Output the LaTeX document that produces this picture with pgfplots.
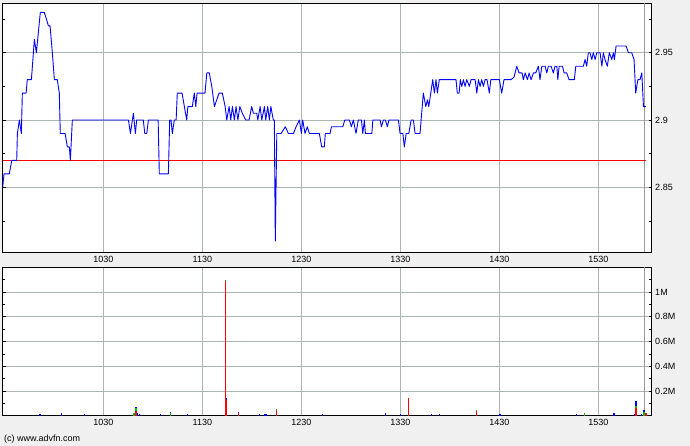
\documentclass[border=0pt]{standalone}
\usepackage{pgfplots}
\pgfplotsset{compat=1.18}
\usepackage{fontspec}
\setmainfont{Liberation Sans}
\definecolor{bg}{RGB}{240,240,240}
\definecolor{gridc}{RGB}{170,182,182}
\definecolor{pblue}{RGB}{0,0,255}
\definecolor{pred}{RGB}{255,0,0}
\definecolor{pgreen}{RGB}{0,190,0}
\pgfplotsset{
  advstyle/.style={
    scale only axis, width=649pt,
    xmin=569, xmax=962.3,
    axis background/.style={fill=white},
    xtick={630,690,750,810,870,930},
    xticklabels={1030,1130,1230,1330,1430,1530},
    extra x ticks={957.7}, extra x tick labels={},
    extra x tick style={grid=major, major grid style={gray!80, line width=0.8pt}},
    yticklabel pos=right, ytick pos=both,
    tick align=inside, major tick length=3pt, minor tick length=2.5pt,
    tick style={black, line width=0.6pt},
    xtick style={draw=none},
    grid=major, major grid style={gridc, line width=0.8pt},
    axis line style={black, line width=0.9pt},
    tick label style={font=\fontsize{9}{10}\selectfont},
    yticklabel style={anchor=west, xshift=0pt},
    xticklabel style={yshift=0pt},
  }
}
\begin{document}
\begin{tikzpicture}
\fill[bg] (0pt,0pt) rectangle (690pt,446pt);
\begin{axis}[advstyle,
  at={(2.7pt,193.5pt)}, anchor=south west, height=249.5pt,
  ymin=2.8015, ymax=2.987,
  ytick={2.85,2.9,2.95}, yticklabels={2.85,2.9,2.95},
  minor ytick={2.825,2.875,2.925,2.975},
]
\addplot[pred, line width=0.9pt, mark=none] coordinates {(569,2.87) (958.7,2.87)};
\addplot[pblue, line width=0.9pt, mark=none, line join=round] coordinates {
(569.0,2.85)(569.8,2.86)(573.0,2.86)(574.5,2.87)(577.5,2.87)(577.9,2.89)(579.1,2.90)(580.3,2.89)(580.9,2.92)(583.2,2.92)(583.9,2.93)(586.4,2.93)(588.2,2.96)(589.4,2.95)(590.2,2.96)(591.8,2.98)(594.2,2.98)(595.5,2.975)(596.7,2.97)(597.7,2.97)(599.1,2.95)(600.3,2.93)(602.1,2.93)(603.3,2.92)(603.9,2.89)(606.8,2.89)(608.2,2.88)(609.4,2.88)(610.0,2.87)(611.2,2.90)(645.2,2.90)(646.4,2.89)(648.2,2.905)(649.4,2.89)(650.2,2.90)(654.2,2.90)(655.1,2.89)(656.3,2.89)(657.3,2.90)(663.2,2.90)(663.9,2.86)(669.4,2.86)(670.2,2.90)(671.0,2.90)(671.8,2.89)(673.0,2.90)(674.1,2.90)(674.8,2.92)(677.7,2.92)(680.5,2.90)(681.2,2.91)(683.9,2.91)(685.1,2.92)(686.0,2.91)(686.8,2.92)(691.6,2.92)(692.7,2.935)(694.2,2.935)(695.7,2.925)(697.3,2.91)(700.1,2.92)(702.1,2.92)(703.8,2.91)(704.8,2.90)(706.2,2.91)(707.2,2.90)(708.2,2.91)(709.4,2.90)(710.4,2.91)(711.5,2.90)(712.7,2.91)(714.2,2.905)(716.3,2.90)(718.3,2.90)(719.9,2.91)(720.9,2.905)(723.0,2.905)(723.6,2.90)(725.0,2.91)(726.0,2.90)(727.6,2.91)(728.4,2.90)(729.6,2.91)(730.6,2.90)(731.5,2.91)(733.0,2.90)(733.6,2.90)(734.2,2.81)(735.1,2.89)(737.7,2.89)(740.3,2.895)(742.1,2.89)(745.2,2.89)(746.8,2.895)(748.8,2.90)(750.0,2.89)(750.8,2.90)(752.2,2.89)(753.6,2.895)(754.8,2.89)(760.9,2.89)(762.3,2.88)(763.9,2.88)(764.5,2.89)(767.4,2.89)(768.2,2.895)(775.1,2.895)(776.3,2.90)(779.1,2.90)(780.3,2.895)(781.5,2.90)(783.1,2.89)(784.5,2.90)(786.4,2.90)(787.2,2.89)(788.2,2.90)(788.8,2.89)(792.7,2.89)(793.3,2.90)(797.7,2.90)(798.5,2.895)(799.7,2.90)(800.9,2.90)(802.1,2.895)(803.1,2.90)(808.8,2.90)(809.8,2.89)(811.5,2.89)(812.4,2.88)(813.5,2.89)(815.1,2.89)(816.5,2.90)(817.9,2.90)(818.9,2.89)(821.9,2.89)(823.9,2.92)(825.4,2.91)(826.4,2.915)(827.2,2.91)(828.4,2.92)(829.6,2.93)(830.6,2.92)(831.6,2.93)(832.4,2.92)(833.6,2.93)(843.7,2.93)(844.5,2.92)(845.6,2.92)(846.3,2.93)(847.2,2.925)(848.2,2.93)(849.2,2.925)(850.2,2.93)(851.8,2.925)(852.8,2.93)(855.3,2.93)(856.3,2.92)(857.3,2.93)(858.3,2.925)(859.3,2.93)(860.3,2.925)(861.3,2.93)(862.5,2.93)(863.9,2.92)(864.8,2.93)(870.0,2.93)(871.4,2.92)(872.8,2.93)(877.1,2.93)(878.9,2.932)(880.5,2.94)(881.9,2.935)(883.7,2.935)(884.5,2.93)(885.6,2.935)(887.0,2.93)(888.0,2.935)(889.2,2.93)(890.6,2.935)(892.0,2.935)(893.6,2.94)(894.6,2.93)(895.7,2.94)(897.7,2.94)(898.7,2.935)(899.7,2.94)(901.3,2.94)(902.7,2.935)(903.7,2.94)(904.8,2.94)(905.4,2.93)(906.2,2.94)(908.2,2.94)(909.2,2.935)(910.8,2.935)(912.2,2.93)(915.4,2.93)(916.3,2.94)(920.9,2.94)(921.9,2.945)(922.9,2.94)(923.9,2.95)(924.9,2.95)(926.0,2.945)(926.9,2.95)(928.0,2.945)(929.0,2.95)(931.0,2.95)(932.1,2.94)(933.0,2.95)(934.0,2.945)(935.4,2.94)(936.6,2.95)(938.1,2.945)(939.1,2.95)(939.7,2.945)(940.7,2.955)(946.8,2.955)(948.2,2.95)(950.2,2.95)(951.6,2.945)(952.6,2.92)(953.9,2.93)(955.2,2.93)(956.3,2.935)(957.3,2.91)(958.7,2.91)
};
\end{axis}
\begin{axis}[advstyle,
  at={(2.7pt,30.3pt)}, anchor=south west, height=148.4pt,
  ymin=0, ymax=1.2,
  ytick={0.2,0.4,0.6,0.8,1}, yticklabels={0.2M,0.4M,0.6M,0.8M,1M},
  minor ytick={0.1,0.3,0.5,0.7,0.9,1.1},
]
\addplot[ycomb, pblue, line width=1.4pt, mark=none] coordinates {
(591.6,0.01)(604.5,0.025)(618.5,0.01)(649.8,0.073)(650.6,0.025)(651.8,0.01)(664.8,0.01)(670.6,0.03)(680.9,0.01)(704.8,0.14)(711.8,0.03)(724.5,0.01)(727.6,0.01)(728.6,0.01)(762.7,0.01)(801.1,0.025)(810,0.015)(814.8,0.147)(828.8,0.01)(833.6,0.01)(870.4,0.015)(916.6,0.01)(939.5,0.025)(951.8,0.01)(952.8,0.12)(956,0.01)(957.7,0.05)
};
\addplot[ycomb, pgreen, line width=1.4pt, mark=none] coordinates {
(648.6,0.02)(649.8,0.06)(670.6,0.02)(703.9,1.1)(734.8,0.056)(856.1,0.047)(921.5,0.02)(952.8,0.08)(957.7,0.03)
};
\addplot[ycomb, pred, line width=1.4pt, mark=none] coordinates {
(649.8,0.04)(703.9,1.09)(704.8,0.13)(711.8,0.02)(734.8,0.048)(814.8,0.14)(856.1,0.04)(952.8,0.06)(958.9,0.02)
};
\end{axis}
\node[anchor=west, inner sep=0pt, font=\fontsize{9}{10}\selectfont] at (4pt,7pt) {(c) www.advfn.com};
\end{tikzpicture}
\end{document}
